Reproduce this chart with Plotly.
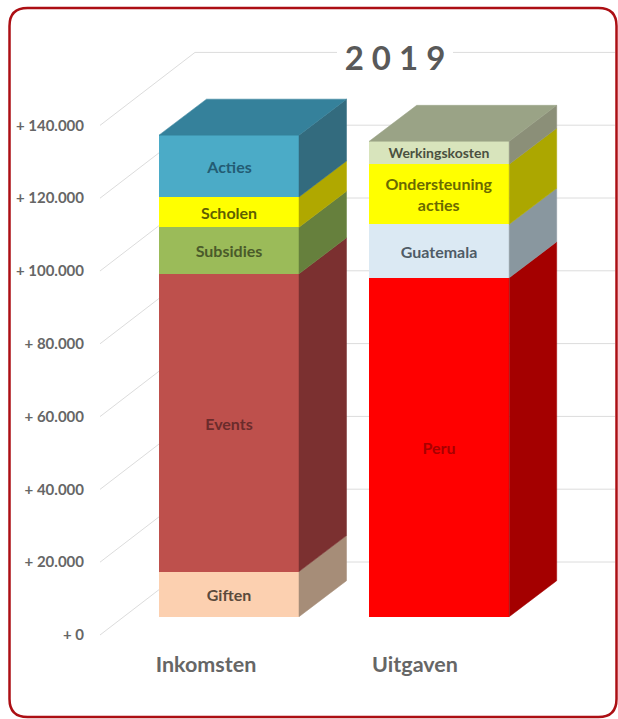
import plotly.graph_objects as go

# ---------- data ----------
categories = ["Inkomsten", "Uitgaven"]
income_names = ["Giften", "Events", "Subsidies", "Scholen", "Acties"]
income_values = [12400, 81800, 12800, 8300, 17000]
expense_names = ["Peru", "Guatemala", "Ondersteuning<br>acties", "Werkingskosten"]
expense_values = [93100, 14700, 16500, 6300]
tick_values = [0, 20000, 40000, 60000, 80000, 100000, 120000, 140000]
tick_labels = ["+ 0", "+ 20.000", "+ 40.000", "+ 60.000", "+ 80.000",
               "+ 100.000", "+ 120.000", "+ 140.000"]

# ---------- style ----------
W, H = 618, 719
SCALE = 0.00364            # px per unit
AXIS_ZERO_PX = 635
BAR_ZERO_PX = 616.7
BAR_W = 140
DEPTH_X = 47.5
DEPTH_V = 36 / SCALE
GRID_DX = 95
GRID_DV = 73 / SCALE
income_front = ["#fcd0b0", "#be504c", "#9bbb59", "#ffff00", "#4babc7"]
income_side = ["#a68d78", "#7b3030", "#66803d", "#b0a800", "#336b7e"]
income_text = ["#5b4a3c", "#6b2b2b", "#4a5a2a", "#5f5f00", "#235c74"]
expense_front = ["#ff0000", "#dbe9f3", "#ffff00", "#d8e4bc"]
expense_side = ["#a40000", "#89979f", "#aca700", "#8b8f78"]
expense_text = ["#a80000", "#4f5b66", "#6a6a00", "#4a5040"]
income_top, expense_top = "#35819b", "#9aa386"
GREY = "#666666"
FONT = "Lato, Carlito, sans-serif"

fig = go.Figure()

# gridlines on the lower layer
for v in tick_values:
    back = v + GRID_DV
    xs = [100, 100 + GRID_DX, W - 3]
    ys = [v, back, back]
    if v == 140000:
        xs = [100, 100 + GRID_DX, 337, None, 453, W - 3]
        ys = [v, back, back, None, back, back]
    fig.add_trace(go.Scatter(x=xs, y=ys, mode="lines", hoverinfo="skip", showlegend=False,
                             line=dict(color="#dcdcdc", width=1), xaxis="x", yaxis="y"))


def add_column(center, names, values, front, side, text_colors, top):
    left, right = center - BAR_W / 2, center + BAR_W / 2
    base = 0
    for name, val, fc, sc, tc in zip(names, values, front, side, text_colors):
        fig.add_trace(go.Scatter(
            x=[right, right + DEPTH_X, right + DEPTH_X, right, right],
            y=[base, base + DEPTH_V, base + val + DEPTH_V, base + val, base],
            fill="toself", fillcolor=sc, mode="lines", line=dict(color=sc, width=0.5),
            hoverinfo="skip", showlegend=False, xaxis="x2", yaxis="y2"))
        size = 14 if name == "Werkingskosten" else 16
        fig.add_trace(go.Bar(
            x=[center], y=[val], base=[base], width=[BAR_W], name=name.replace("<br>", " "),
            marker=dict(color=fc, line=dict(width=0)), text=[name], textposition="inside",
            insidetextanchor="middle", textangle=0, constraintext="none",
            textfont=dict(family=FONT, size=size, color=tc, weight="bold"),
            showlegend=False, xaxis="x2", yaxis="y2"))
        base += val
    fig.add_trace(go.Scatter(
        x=[left, right, right + DEPTH_X, left + DEPTH_X, left],
        y=[base, base, base + DEPTH_V, base + DEPTH_V, base],
        fill="toself", fillcolor=top, mode="lines", line=dict(color=top, width=0.5),
        hoverinfo="skip", showlegend=False, xaxis="x2", yaxis="y2"))


add_column(229, income_names, income_values, income_front, income_side, income_text, income_top)
add_column(439.2, expense_names, expense_values, expense_front, expense_side, expense_text, expense_top)

fig.update_layout(
    width=W, height=H, margin=dict(l=0, r=0, t=0, b=0),
    paper_bgcolor="white", plot_bgcolor="white", barmode="overlay", bargap=0,
    showlegend=False,
    title=dict(text="2 0 1 9", x=395 / W, xanchor="center", y=1 - 58 / H, yanchor="middle",
               font=dict(family=FONT, size=33, color="#595959", weight="bold")),
    xaxis=dict(range=[0, W], domain=[0, 1], anchor="free", position=1 - 649 / H,
               tickmode="array", tickvals=[206, 415], ticktext=categories,
               tickfont=dict(family=FONT, size=21.5, color=GREY, weight="bold"),
               showgrid=False, zeroline=False, showline=False, ticks=""),
    yaxis=dict(range=[(AXIS_ZERO_PX - H) / SCALE, AXIS_ZERO_PX / SCALE], domain=[0, 1],
               anchor="free", position=84 / W,
               tickmode="array", tickvals=tick_values, ticktext=tick_labels,
               tickfont=dict(family=FONT, size=15, color=GREY, weight="bold"),
               showgrid=False, zeroline=False, showline=False, ticks=""),
    xaxis2=dict(range=[0, W], overlaying="x", visible=False, anchor="y2"),
    yaxis2=dict(range=[(BAR_ZERO_PX - H) / SCALE, BAR_ZERO_PX / SCALE], overlaying="y",
                visible=False, anchor="x2"),
)

# rounded frame
L, R, T, B, C = 9.5 / W, 616.5 / W, 1 - 8 / H, 1 - 717 / H, 18
cx, cy = C / W, C / H
frame = (f"M {L + cx},{T} L {R - cx},{T} Q {R},{T} {R},{T - cy} L {R},{B + cy} "
         f"Q {R},{B} {R - cx},{B} L {L + cx},{B} Q {L},{B} {L},{B + cy} "
         f"L {L},{T - cy} Q {L},{T} {L + cx},{T} Z")
fig.add_shape(type="path", path=frame, xref="paper", yref="paper", layer="above",
              line=dict(color="#ac0f14", width=2.5))

fig.write_html("out.html", config={"displayModeBar": False},
               post_script="document.body.style.margin='0';")
